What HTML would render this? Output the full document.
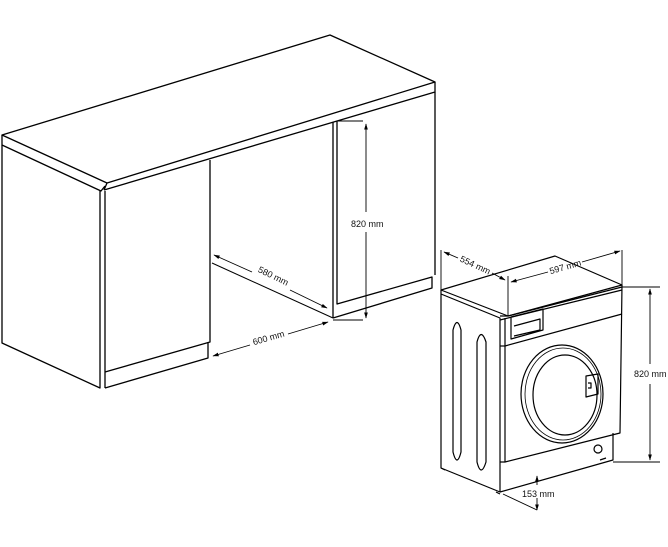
<!DOCTYPE html>
<html><head><meta charset="utf-8"><style>
html,body{margin:0;padding:0;background:#fff}
svg{display:block}
text{font-family:"Liberation Sans",sans-serif;font-size:9px;fill:#111}
</style></head><body>
<svg width="668" height="547" viewBox="0 0 668 547" xmlns="http://www.w3.org/2000/svg">
<defs>
<marker id="a" viewBox="0 0 10 10" refX="9" refY="5" markerWidth="7" markerHeight="7" orient="auto-start-reverse"><path d="M0,2 L10,5 L0,8 z" fill="#000"/></marker>
</defs>
<g fill="none" stroke="#000" stroke-width="1.3" stroke-linejoin="round">
<!-- countertop -->
<path d="M2,135 L330,35 L435,82 L107,183 Z" fill="#fff"/>
<path d="M2,135 L2,145 L101,191 L105,186 M107,183 L104,190 M104,190 L435,92 L435,82"/>
<path d="M2,145 L2,343 L100,388 L100,191"/>
<path d="M105,191 L105,388 M105,388 L208,358 L208,342"/>
<path d="M105,372 L210,342 L210,160"/>
<!-- right cabinet -->
<path d="M333,122 L333,318 M337,121 L337,304 L432,277 L432,288 L333,318 M435,92 L435,275"/>
<!-- floor lines -->
<path d="M212,263 L333,318" stroke-width="1"/>
</g>
<g stroke="#000" stroke-width="0.9" fill="none">
<path d="M337,121 L363,121 M333,320 L363,320"/>
<line x1="366" y1="124" x2="366" y2="212" marker-start="url(#a)"/>
<line x1="366" y1="232" x2="366" y2="318" marker-end="url(#a)"/>
<line x1="214" y1="255" x2="252" y2="272" marker-start="url(#a)"/>
<line x1="290" y1="290" x2="327" y2="308" marker-end="url(#a)"/>
<line x1="213" y1="356" x2="250" y2="345" marker-start="url(#a)"/>
<line x1="288" y1="334" x2="328" y2="322" marker-end="url(#a)"/>
</g>
<text x="351" y="227">820 mm</text>
<text x="255" y="278" transform="rotate(26 270 280)">580 mm</text>
<text x="252" y="341" transform="rotate(-16 268 337)">600 mm</text>
<!-- washer -->
<g fill="none" stroke="#000" stroke-width="1.2" stroke-linejoin="round">
<path d="M441,290 L555,256 L622,285 L508,316 Z" fill="#fff"/>
<path d="M441,290 L441,468 L500,492 L500,318 L441,294"/>
<path d="M500,316 L508,316 L622,287 M500,320 L622,290"/>
<path d="M505,318 L505,462 L620,433 L622,285"/>
<path d="M505,346 L622,314"/>
<path d="M500,346 L505,346"/>
<path d="M500,462 L505,462 M500,492 L613,460 L613,433"/>
<path d="M511,317 L543,309 L543,330 L511,339 Z M514,326 L540,319 L540,330 L514,336"/>
<ellipse cx="562" cy="394" rx="41" ry="49"/>
<ellipse cx="563" cy="394" rx="38" ry="46" stroke-width="0.8"/>
<ellipse cx="565" cy="395" rx="32" ry="40"/>
<path d="M586,376 L598,374 L598,394 L586,397 Z M588,383 L591,383 L591,388 L588,388"/>
<path d="M453,330 Q457,315 461,330 L461,452 Q457,468 453,452 Z"/>
<path d="M477,342 Q481,327 486,342 L486,462 Q481,478 477,462 Z"/>
<circle cx="598" cy="449" r="4"/>
<path d="M441,468 L445,470 M496,492 L500,494 M600,460 L606,458"/>
</g>
<g stroke="#000" stroke-width="0.9" fill="none">
<path d="M441,250 L441,290 M508,276 L508,316 M622,250 L622,285"/>
<line x1="444" y1="252" x2="458" y2="258" marker-start="url(#a)"/>
<line x1="492" y1="273" x2="505" y2="280" marker-end="url(#a)"/>
<line x1="511" y1="282" x2="548" y2="272" marker-start="url(#a)"/>
<line x1="582" y1="262" x2="620" y2="251" marker-end="url(#a)"/>
<path d="M622,287 L660,287 M613,462 L660,462"/>
<line x1="650" y1="289" x2="650" y2="364" marker-start="url(#a)"/>
<line x1="650" y1="384" x2="650" y2="460" marker-end="url(#a)"/>
<line x1="537" y1="476" x2="537" y2="485" marker-start="url(#a)"/>
<line x1="537" y1="498" x2="537" y2="510" marker-end="url(#a)"/>
<path d="M503,494 L537,510"/>
</g>
<text x="459" y="268" transform="rotate(25 475 265)">554 mm</text>
<text x="549" y="270" transform="rotate(-16 565 267)">597 mm</text>
<text x="634" y="377">820 mm</text>
<text x="522" y="497">153 mm</text>
</svg>
</body></html>
